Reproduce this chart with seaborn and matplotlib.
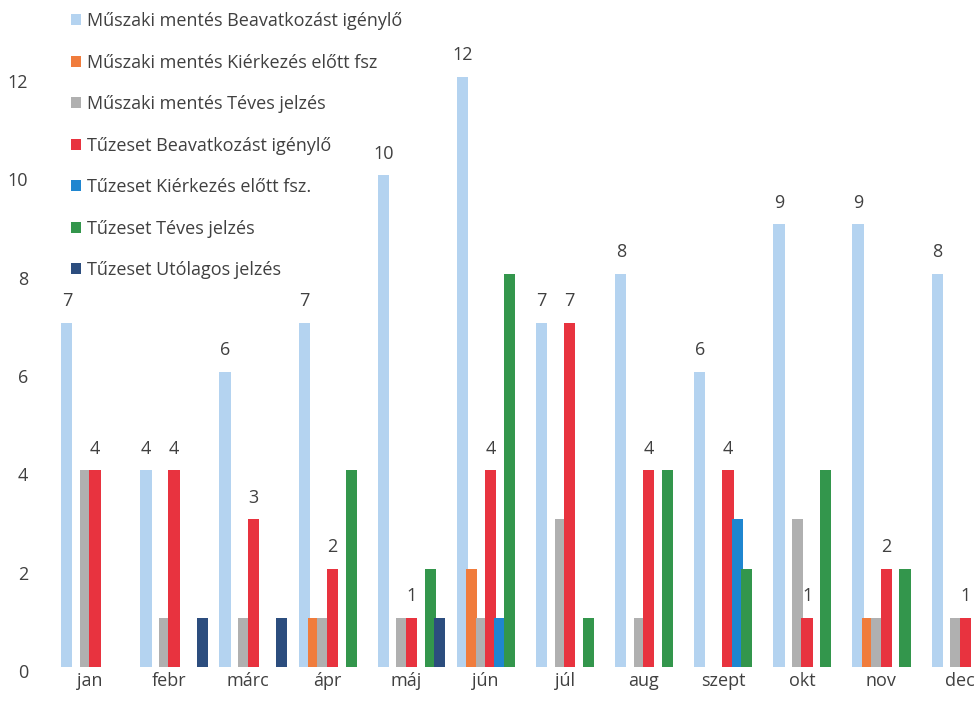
import numpy as np
import pandas as pd
import seaborn as sns
import matplotlib.pyplot as plt
import matplotlib.transforms as mtransforms

months = ['jan', 'febr', 'márc', 'ápr', 'máj', 'jún', 'júl', 'aug', 'szept', 'okt', 'nov', 'dec']
series = ['Műszaki mentés Beavatkozást igénylő',
          'Műszaki mentés Kiérkezés előtt fsz',
          'Műszaki mentés Téves jelzés',
          'Tűzeset Beavatkozást igénylő',
          'Tűzeset Kiérkezés előtt fsz.',
          'Tűzeset Téves jelzés',
          'Tűzeset Utólagos jelzés']

mm_beavatkozas = [7, 4, 6, 7, 10, 12, 7, 8, 6, 9, 9, 8]
mm_kierkezes = [0, 0, 0, 1, 0, 2, 0, 0, 0, 0, 1, 0]
mm_teves = [4, 1, 1, 1, 1, 1, 3, 1, 0, 3, 1, 1]
tz_beavatkozas = [4, 4, 3, 2, 1, 4, 7, 4, 4, 1, 2, 1]
tz_kierkezes = [0, 0, 0, 0, 0, 1, 0, 0, 3, 0, 0, 0]
tz_teves = [0, 0, 0, 4, 2, 8, 1, 4, 2, 4, 2, 0]
tz_utolagos = [0, 1, 1, 0, 1, 0, 0, 0, 0, 0, 0, 0]

colors = ['#b4d3f0', '#f07c3c', '#b0b0b0', '#e8333f', '#1f86d0', '#33964c', '#2c4d7e']

values = [mm_beavatkozas, mm_kierkezes, mm_teves, tz_beavatkozas, tz_kierkezes, tz_teves, tz_utolagos]
rows = []
for s, vals in zip(series, values):
    for m, v in zip(months, vals):
        rows.append({'month': m, 'series': s, 'value': v})
df = pd.DataFrame(rows)

sns.set_style('white')
plt.rcParams['font.family'] = ['Open Sans', 'DejaVu Sans']

fig = plt.figure(figsize=(9.78, 7.09), dpi=100)
ax = fig.add_axes([45 / 978, 42 / 709, 1 - 45 / 978, 664 / 709])

sns.barplot(data=df, x='month', y='value', hue='series', order=months, hue_order=series,
            palette=colors, width=0.83, gap=0, saturation=1, linewidth=0, ax=ax)

# bars look a bit wider than their slot in the original (they overlap slightly)
for cont in ax.containers:
    for p in cont.patches:
        w = p.get_width()
        p.set_x(p.get_x() - w * 0.1)
        p.set_width(w * 1.2)

# value labels only on the two "Beavatkozást igénylő" series
for idx in (0, 3):
    cont = ax.containers[idx]
    labels = [str(int(v)) if v > 0 else '' for v in values[idx]]
    ax.bar_label(cont, labels=labels, padding=9, fontsize=13, color='#404040')

ax.set_xlim(-0.632, 11.16)
ax.set_ylim(0, 13.5)
ax.set_yticks(range(0, 13, 2))
ax.tick_params(axis='both', labelsize=13, colors='#404040', length=0)
ax.tick_params(axis='y', pad=12)
ax.set_xlabel('')
ax.set_ylabel('')
for sp in ax.spines.values():
    sp.set_visible(False)

# month labels sit a little left of the groups, y labels a little low
for lbl in ax.get_xticklabels():
    lbl.set_transform(lbl.get_transform() + mtransforms.ScaledTranslation(-5 / 100, 0, fig.dpi_scale_trans))
for lbl in ax.get_yticklabels():
    lbl.set_transform(lbl.get_transform() + mtransforms.ScaledTranslation(0, -4 / 100, fig.dpi_scale_trans))

ax.legend(loc='upper left', bbox_to_anchor=(64 / 978, 1 - 5 / 709), bbox_transform=fig.transFigure,
          frameon=False, fontsize=13, labelspacing=1.3, handlelength=0.55, handleheight=0.55,
          handletextpad=0.3, labelcolor='#404040', borderaxespad=0)

plt.savefig('out.png', dpi=100)
